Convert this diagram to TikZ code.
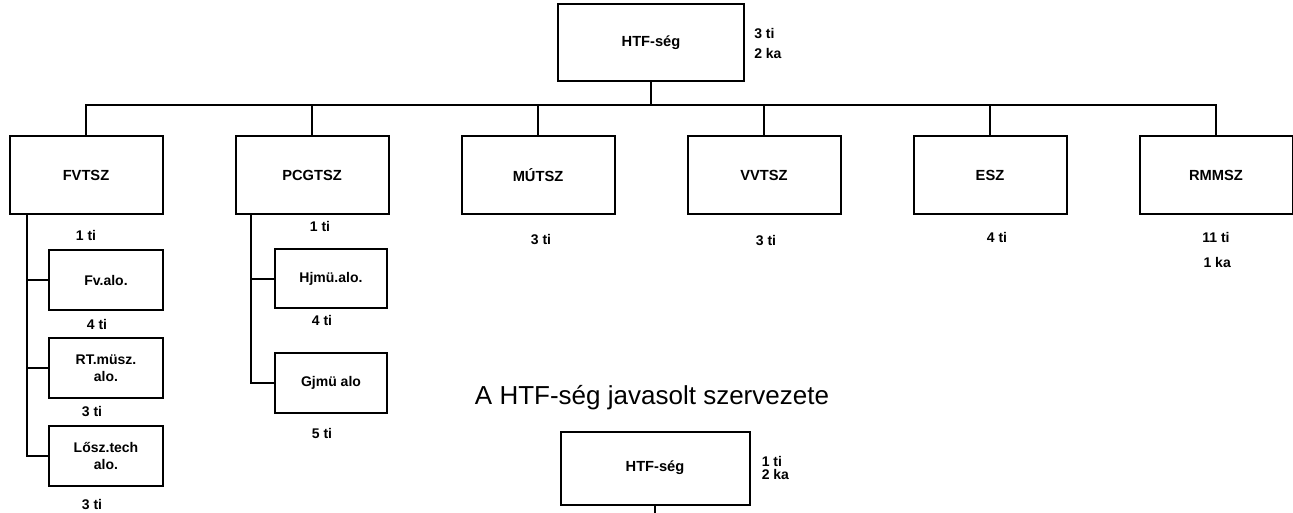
\documentclass[tikz,border=0pt]{standalone}
\usepackage{fontspec}
\setmainfont{Liberation Sans}
\usetikzlibrary{positioning}

\begin{document}
\begin{tikzpicture}[
  x=0.75pt, y=-0.75pt,
  node distance=6pt,
  box/.style={draw, line width=1.5pt, minimum width=114.75pt, minimum height=58.5pt, align=center, font=\bfseries\fontsize{11}{13}\selectfont},
  head/.style={box, minimum width=139.5pt, minimum height=57.75pt},
  sub/.style={box, minimum width=85.5pt, minimum height=45pt, font=\bfseries\fontsize{10.5}{12.5}\selectfont},
  num/.style={inner sep=1pt, align=left, font=\bfseries\fontsize{10.5}{15}\selectfont},
  wire/.style={line width=1.5pt}
]
\useasboundingbox (0,0) rectangle (1293,513);

% felso szint
\node[head] (htf) at (651,43) {HTF-ség};
\node[num, right=5.75pt of htf] (htfn) {3 ti\\2 ka};
\coordinate (bus) at (0,105);

\node[box] (fvtsz) at (86,175) {FVTSZ};
\node[box, right=53.25pt of fvtsz] (pcgtsz) {PCGTSZ};
\node[box, right=53.25pt of pcgtsz] (mutsz) {MÚTSZ};
\node[box, right=53.25pt of mutsz] (vvtsz) {VVTSZ};
\node[box, right=53.25pt of vvtsz] (esz) {ESZ};
\node[box, right=53.25pt of esz] (rmmsz) {RMMSZ};

\node[num, below=10pt of fvtsz] (fvtszn) {1 ti};
\node[num, below=3.5pt of pcgtsz, xshift=6pt] (pcgtszn) {1 ti};
\node[num, below=13.25pt of mutsz, xshift=2.25pt] (mutszn) {3 ti};
\node[num, below=14pt of vvtsz, xshift=1.5pt] (vvtszn) {3 ti};
\node[num, below=11.75pt of esz, xshift=5.25pt] (eszn) {4 ti};
\node[num, below=11.75pt of rmmsz, align=center, font=\bfseries\fontsize{10.5}{18.75}\selectfont] (rmmszn) {11 ti\\\,1 ka};

% FVTSZ alosztalyai
\node[sub] (fv) at (106,280) {Fv.alo.};
\node[sub, below=19.5pt of fv] (rt) {RT.müsz.\\alo.};
\node[sub, below=19.5pt of rt] (losz) {Lősz.tech\\alo.};
\node[num, below=5pt of fv, xshift=-6.75pt] (fvn) {4 ti};
\node[num, below=4.25pt of rt, xshift=-10.5pt] (rtn) {3 ti};
\node[num, below=8pt of losz, xshift=-10.5pt] (loszn) {3 ti};

% PCGTSZ alosztalyai
\node[sub, minimum width=84pt, minimum height=44.25pt] (hjmu) at (331,279) {Hjmü.alo.};
\node[sub, minimum width=84pt, minimum height=44.25pt, below=32.25pt of hjmu] (gjmu) {Gjmü alo};
\node[num, below=3.5pt of hjmu, xshift=-6.75pt] (hjmun) {4 ti};
\node[num, below=10.25pt of gjmu, xshift=-6.75pt] (gjmun) {5 ti};

% cim es also resz
\node[font=\fontsize{19.5}{23}\selectfont] (title) at (652,398) {A HTF-ség javasolt szervezete};
\node[head, minimum width=141.75pt, minimum height=54.75pt] (htf2) at (655,468) {HTF-ség};
\node[num, right=7.25pt of htf2, font=\bfseries\fontsize{10.5}{10}\selectfont] (htf2n) {1 ti\\2 ka};
\coordinate (bottom) at (655,513);

% vonalak
\draw[wire] (htf) -- (htf.south |- bus);
\draw[wire] (fvtsz) |- (bus -| rmmsz.north) -- (rmmsz);
\draw[wire] (pcgtsz) -- (pcgtsz.north |- bus);
\draw[wire] (mutsz) -- (mutsz.north |- bus);
\draw[wire] (vvtsz) -- (vvtsz.north |- bus);
\draw[wire] (esz) -- (esz.north |- bus);

\coordinate (ftrunk) at ([xshift=13.5pt]fvtsz.south west);
\draw[wire] (ftrunk) |- (losz);
\draw[wire] (ftrunk |- fv.west) -- (fv);
\draw[wire] (ftrunk |- rt.west) -- (rt);

\coordinate (ptrunk) at ([xshift=12pt]pcgtsz.south west);
\draw[wire] (ptrunk) |- (gjmu);
\draw[wire] (ptrunk |- hjmu.west) -- (hjmu);

\draw[wire] (htf2) -- (bottom);
\end{tikzpicture}
\end{document}
